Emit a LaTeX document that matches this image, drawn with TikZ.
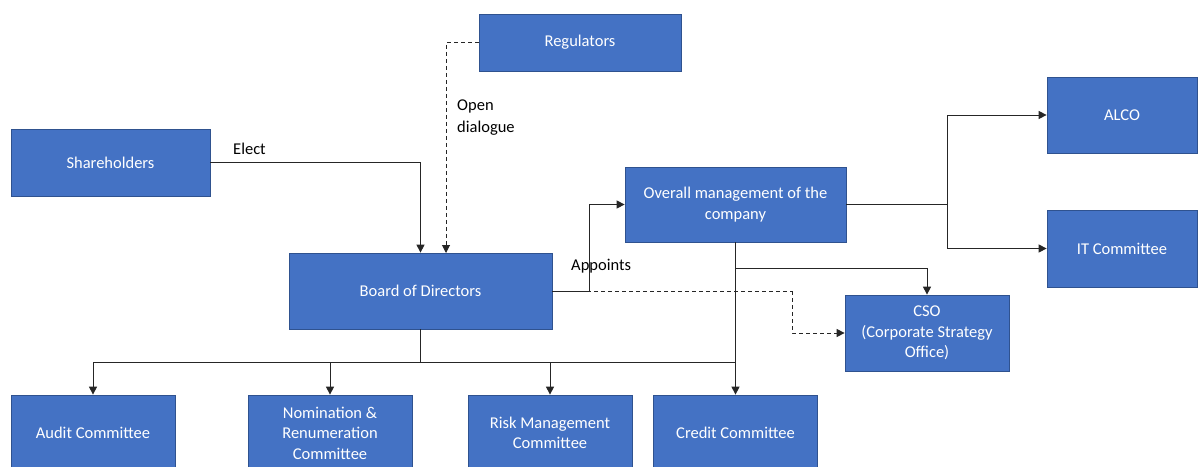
\documentclass[tikz,border=0pt]{standalone}
\usepackage{fontspec}
\setmainfont{Carlito}
\usetikzlibrary{arrows.meta,calc}
\definecolor{boxblue}{HTML}{4472C4}
\definecolor{boxedge}{HTML}{2F528F}
\begin{document}
\begin{tikzpicture}[x=1pt,y=-1pt,
  unit/.style={draw=boxedge,line width=0.75pt,fill=boxblue,text=white,
    align=center,inner sep=2pt,
    font=\fontsize{16.5}{20.5}\selectfont},
  lbl/.style={text=black,align=left,inner sep=0pt,anchor=west,
    font=\fontsize{16.5}{22}\selectfont},
  link/.style={draw=black!85,line width=1pt},
  tip/.style={-{Triangle[length=8pt,width=8pt]}},
  dlink/.style={link,dash pattern=on 4pt off 3pt}]
\useasboundingbox (0,0) rectangle (1198,466);

% top level
\node[unit,minimum width=202pt,minimum height=57pt] (reg) at (580,42.5) {Regulators};
\node[unit,minimum width=199pt,minimum height=67pt] (sh) at (110.5,162.5) {Shareholders};
\node[unit,minimum width=263pt,minimum height=76pt] (bod) at (420.5,291) {Board of Directors};
\node[unit,minimum width=221pt,minimum height=75pt] (om) at (735.5,204.5) {Overall management of the\\company};
\node[unit,minimum width=164pt,minimum height=76pt] (cso) at (927,333) {CSO\\(Corporate Strategy\\Office)};
\node[unit,minimum width=150pt,minimum height=76pt] (alco) at (1122,115) {ALCO};
\node[unit,minimum width=150pt,minimum height=77pt] (it) at (1122,248.5) {IT Committee};

% committees of the board
\node[unit,minimum width=164pt,minimum height=76pt] (audit) at (93,433) {Audit Committee};
\node[unit,minimum width=164pt,minimum height=76pt] (nom) at (330,433) {Nomination \&\\Renumeration\\Committee};
\node[unit,minimum width=164pt,minimum height=76pt] (risk) at (550,433) {Risk Management\\Committee};
\node[unit,minimum width=164pt,minimum height=76pt] (credit) at (735.5,433) {Credit Committee};

% labels
\node[lbl] (elect) at (233,149) {Elect};
\node[lbl] (dial) at (457,117.5) {Open\\dialogue};
\node[lbl] (app) at (571,266) {Appoints};

% connectors
\coordinate (regdrop) at (446,253);
\coordinate (appturn) at (589,204.5);
\coordinate (csoturn) at (792,291);
\coordinate (omsplit) at (947,204.5);
\coordinate (csobranch) at (735.5,268);
\coordinate (bodsplit) at (420.5,362);

\draw[link,tip] (sh.east) -| (bod.north);
\draw[dlink,tip] (reg.west) -| (regdrop);
\draw[link] (bod.east) -| (appturn);
\draw[link,tip] (appturn) -- (om.west);
\draw[dlink] (bod.east) -- (csoturn);
\draw[dlink,tip] (csoturn) |- (cso.west);
\draw[link,tip] (om.south) -- (credit.north);
\draw[link,tip] (csobranch) -| (cso.north);
\draw[link] (om.east) -- (omsplit);
\draw[link,tip] (omsplit) |- (alco.west);
\draw[link,tip] (omsplit) |- (it.west);
\draw[link] (bod.south) -- (bodsplit);
\draw[link,tip] (bodsplit) -| (audit.north);
\draw[link,tip] (bodsplit) -| (nom.north);
\draw[link,tip] (bodsplit) -| (risk.north);
\draw[link] (bodsplit) -- (bodsplit -| credit.north);
\end{tikzpicture}
\end{document}
